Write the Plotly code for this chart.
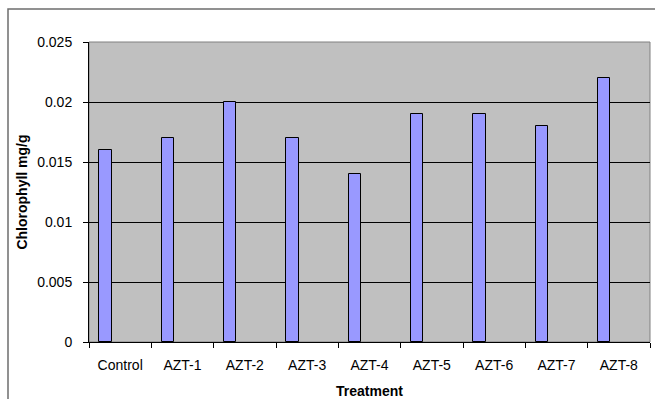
import plotly.graph_objects as go

categories = ["Control", "AZT-1", "AZT-2", "AZT-3", "AZT-4", "AZT-5", "AZT-6", "AZT-7", "AZT-8"]
chlorophyll = [0.016, 0.017, 0.020, 0.017, 0.014, 0.019, 0.019, 0.018, 0.022]
y_ticks = [0, 0.005, 0.01, 0.015, 0.02, 0.025]
y_tick_text = ["0", "0.005", "0.01", "0.015", "0.02", "0.025"]

W, H = 655, 399
L, R, T, B = 89, 5, 42, 57
pw, ph = W - L - R, H - T - B

FONT = "Liberation Sans, Arial, sans-serif"

fig = go.Figure()
fig.add_trace(go.Bar(
    x=categories, y=chlorophyll,
    width=0.2, offset=-0.335,
    marker=dict(color="#9999FF", line=dict(color="#000000", width=1)),
    showlegend=False,
))

def px_x(p):
    return (p - L) / pw

def px_y(p):
    return 1 - (p - T) / ph

fig.update_layout(
    width=W, height=H,
    margin=dict(l=L, r=R, t=T, b=B, pad=0),
    paper_bgcolor="white",
    plot_bgcolor="#C0C0C0",
    font=dict(family=FONT, size=14, color="#000000"),
    bargap=0,
    shapes=[
        dict(type="rect", xref="paper", yref="paper",
             x0=0, x1=1, y0=0, y1=1,
             line=dict(color="#808080", width=1), fillcolor="rgba(0,0,0,0)", layer="below"),
        dict(type="rect", xref="paper", yref="paper",
             x0=px_x(8), x1=px_x(800), y0=px_y(9), y1=px_y(600),
             line=dict(color="#6E6E6E", width=1.5), fillcolor="rgba(0,0,0,0)"),
    ],
)

fig.update_xaxes(
    type="category",
    range=[-0.5, len(categories) - 0.5],
    automargin=False,
    showline=True, linecolor="#000000", linewidth=1,
    ticks="outside", ticklen=5, tickcolor="#000000", tickwidth=1,
    tickson="boundaries",
    showgrid=False,
    tickfont=dict(size=14),
    ticklabelstandoff=10,
    title=dict(text="<b>Treatment</b>", font=dict(size=14), standoff=17),
)
fig.update_yaxes(
    range=[0, 0.025],
    automargin=False,
    tickvals=y_ticks, ticktext=y_tick_text,
    showline=True, linecolor="#000000", linewidth=1,
    ticks="outside", ticklen=5, tickcolor="#000000", tickwidth=1,
    showgrid=True, gridcolor="#000000", gridwidth=1,
    zeroline=False,
    tickfont=dict(size=14),
    ticklabelstandoff=8,
    title=dict(text="<b>Chlorophyll mg/g</b>", font=dict(size=14), standoff=6),
)

fig.write_html("out.html")
